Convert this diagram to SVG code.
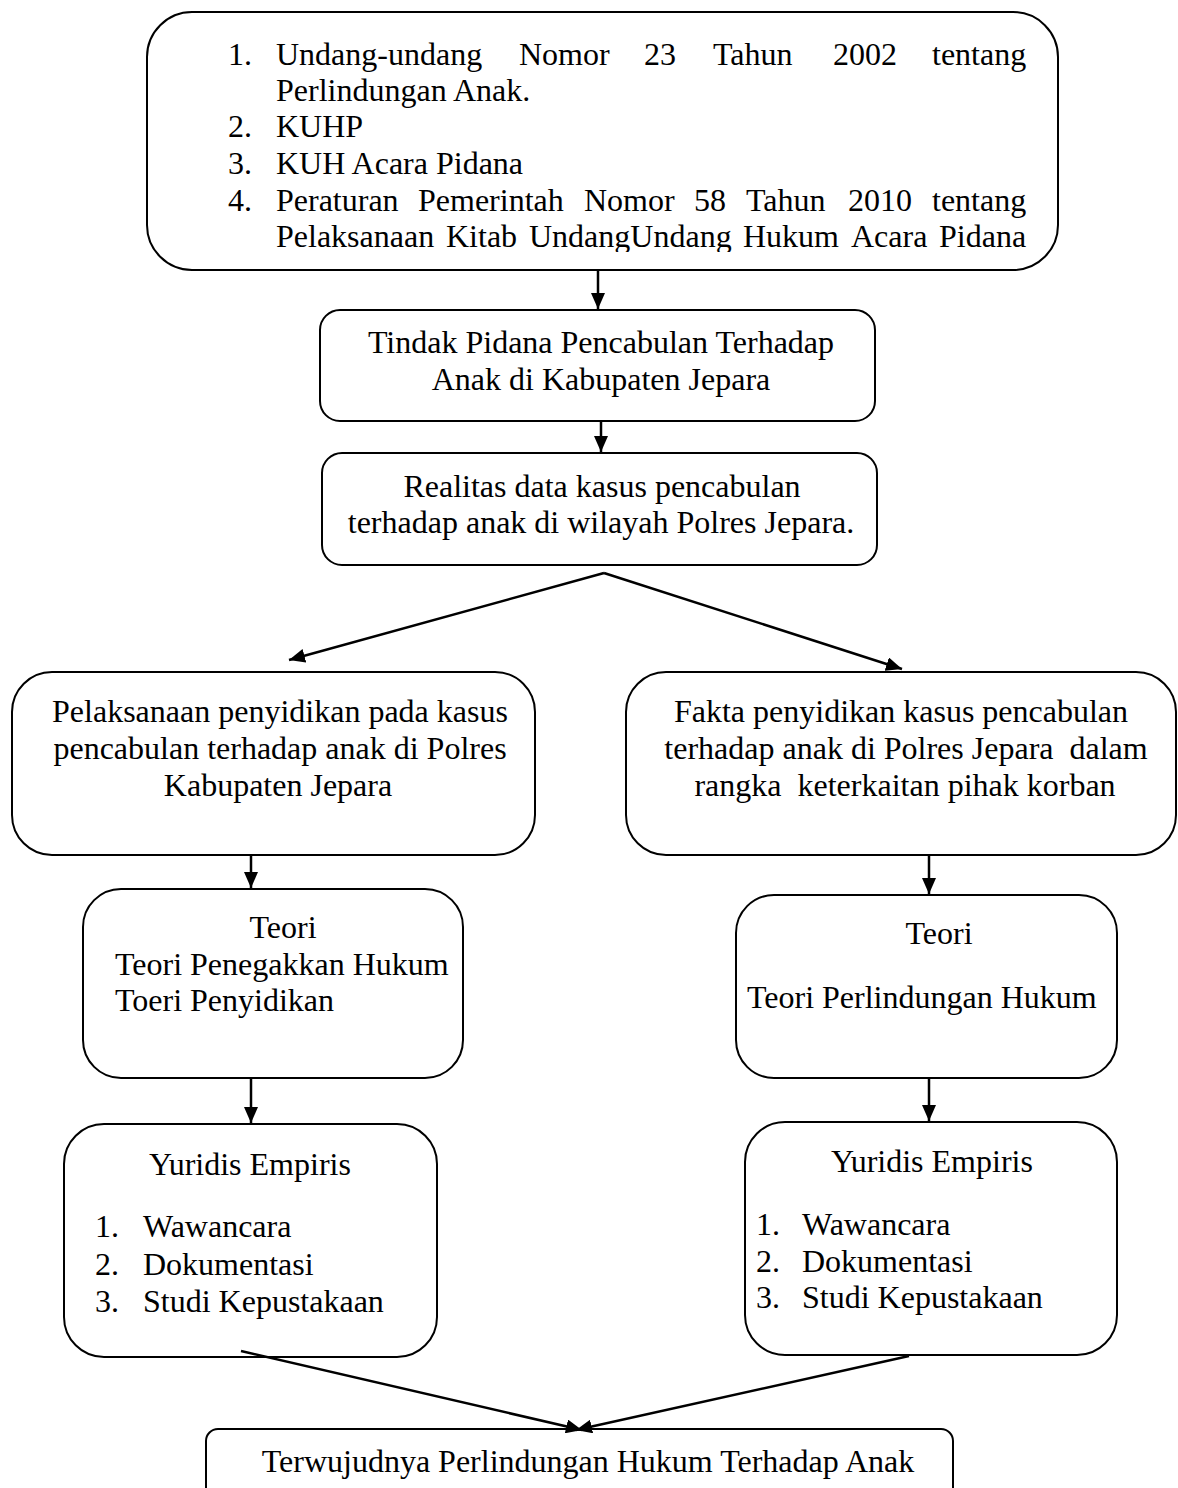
<svg xmlns="http://www.w3.org/2000/svg" width="1178" height="1488" viewBox="0 0 1178 1488">
<style>
text{font-family:"Liberation Serif","Times New Roman",serif;font-size:32px;fill:#000}
.box{fill:#fff;stroke:#000;stroke-width:2}
.c{text-anchor:middle}
.conn line{stroke:#000;stroke-width:2.5;marker-end:url(#arr)}
</style>
<defs>
<marker id="arr" viewBox="0 0 16 14" refX="16" refY="7" markerWidth="16" markerHeight="14" markerUnits="userSpaceOnUse" orient="auto"><path d="M0,0 L16,7 L0,14 Z" fill="#000"/></marker>
<clipPath id="topclip"><rect x="147" y="12" width="911" height="240"/></clipPath>
</defs>
<rect width="1178" height="1488" fill="#fff"/>

<g id="n-dasar">
<rect class="box" x="147" y="12" width="911" height="258" rx="45"/>
<g clip-path="url(#topclip)">
<text x="228" y="65">1.</text>
<text y="65"><tspan x="276">Undang-undang</tspan><tspan x="519">Nomor</tspan><tspan x="644">23</tspan><tspan x="713">Tahun</tspan><tspan x="833">2002</tspan><tspan x="932">tentang</tspan></text>
<text x="276" y="101">Perlindungan Anak.</text>
<text x="228" y="137">2.</text><text x="276" y="137">KUHP</text>
<text x="228" y="174">3.</text><text x="276" y="174">KUH Acara Pidana</text>
<text x="228" y="211">4.</text>
<text y="211"><tspan x="276">Peraturan</tspan><tspan x="418">Pemerintah</tspan><tspan x="584">Nomor</tspan><tspan x="694">58</tspan><tspan x="746">Tahun</tspan><tspan x="848">2010</tspan><tspan x="932">tentang</tspan></text>
<text y="247"><tspan x="276">Pelaksanaan</tspan><tspan x="446">Kitab</tspan><tspan x="529">UndangUndang</tspan><tspan x="743">Hukum</tspan><tspan x="851">Acara</tspan><tspan x="939">Pidana</tspan></text>
</g>
</g>

<g id="n-tindak">
<rect class="box" x="320" y="310" width="555" height="111" rx="20"/>
<text class="c" x="601" y="353">Tindak Pidana Pencabulan Terhadap</text>
<text class="c" x="601" y="390">Anak di Kabupaten Jepara</text>
</g>

<g id="n-realitas">
<rect class="box" x="322" y="453" width="555" height="112" rx="20"/>
<text class="c" x="602" y="497">Realitas data kasus pencabulan</text>
<text class="c" x="601" y="533">terhadap anak di wilayah Polres Jepara.</text>
</g>

<g id="n-pelaksanaan">
<rect class="box" x="12" y="672" width="523" height="183" rx="40"/>
<text class="c" x="280" y="722">Pelaksanaan penyidikan pada kasus</text>
<text class="c" x="280" y="759">pencabulan terhadap anak di Polres</text>
<text class="c" x="278" y="796">Kabupaten Jepara</text>
</g>

<g id="n-fakta">
<rect class="box" x="626" y="672" width="550" height="183" rx="40"/>
<text class="c" x="901" y="722" xml:space="preserve">Fakta penyidikan kasus pencabulan</text>
<text class="c" x="906" y="759" xml:space="preserve">terhadap anak di Polres Jepara  dalam</text>
<text class="c" x="905" y="796" xml:space="preserve">rangka  keterkaitan pihak korban</text>
</g>

<g id="n-teori-kiri">
<rect class="box" x="83" y="889" width="380" height="189" rx="38"/>
<text class="c" x="283" y="938">Teori</text>
<text x="115" y="975">Teori Penegakkan Hukum</text>
<text x="115" y="1011">Toeri Penyidikan</text>
</g>

<g id="n-teori-kanan">
<rect class="box" x="736" y="895" width="381" height="183" rx="38"/>
<text class="c" x="939" y="944">Teori</text>
<text x="747" y="1008">Teori Perlindungan Hukum</text>
</g>

<g id="n-yuridis-kiri">
<rect class="box" x="64" y="1124" width="373" height="233" rx="40"/>
<text class="c" x="250" y="1175">Yuridis Empiris</text>
<text x="95" y="1237">1.</text><text x="143" y="1237">Wawancara</text>
<text x="95" y="1275">2.</text><text x="143" y="1275">Dokumentasi</text>
<text x="95" y="1312">3.</text><text x="143" y="1312">Studi Kepustakaan</text>
</g>

<g id="n-yuridis-kanan">
<rect class="box" x="745" y="1122" width="372" height="233" rx="40"/>
<text class="c" x="932" y="1172">Yuridis Empiris</text>
<text x="756" y="1235">1.</text><text x="802" y="1235">Wawancara</text>
<text x="756" y="1272">2.</text><text x="802" y="1272">Dokumentasi</text>
<text x="756" y="1308">3.</text><text x="802" y="1308">Studi Kepustakaan</text>
</g>

<g id="n-hasil">
<rect class="box" x="206" y="1429" width="747" height="80" rx="12"/>
<text class="c" x="588" y="1472">Terwujudnya Perlindungan Hukum Terhadap Anak</text>
</g>

<g class="conn" id="connectors">
<line x1="598" y1="270" x2="598" y2="309"/>
<line x1="601" y1="421" x2="601" y2="452"/>
<line x1="604" y1="573" x2="289" y2="660"/>
<line x1="604" y1="573" x2="902" y2="669"/>
<line x1="251" y1="855" x2="251" y2="888"/>
<line x1="929" y1="855" x2="929" y2="894"/>
<line x1="251" y1="1078" x2="251" y2="1123"/>
<line x1="929" y1="1078" x2="929" y2="1121"/>
<line x1="241" y1="1351" x2="582" y2="1430"/>
<line x1="909" y1="1356" x2="576" y2="1430"/>
</g>
</svg>
